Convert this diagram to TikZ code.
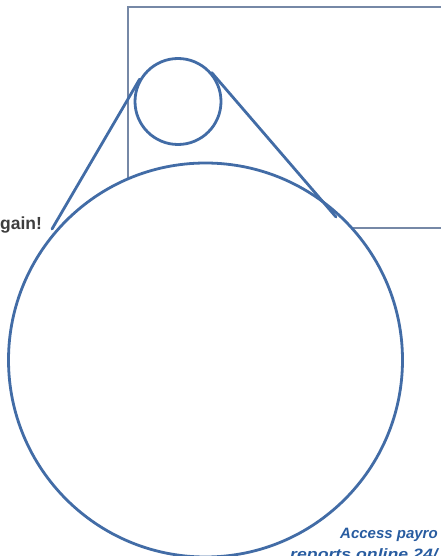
\documentclass[tikz,border=0pt]{standalone}
\usepackage{fontspec}
\setmainfont{Liberation Sans}
\usetikzlibrary{calc}
\definecolor{lensblue}{RGB}{66,108,166}
\definecolor{framegray}{RGB}{118,136,166}
\definecolor{adblue}{RGB}{40,92,160}
\definecolor{textgray}{RGB}{62,62,62}
\begin{document}
\begin{tikzpicture}[x=1pt, y=-1pt,
    frame/.style={framegray, line width=1.4pt},
    lens/.style={draw=lensblue, line width=2.8pt, fill=white, circle, inner sep=0pt},
    beam/.style={lensblue, line width=2.8pt, line cap=round}]
        \useasboundingbox (0,0) rectangle (440,556);

        % Frame behind the circles
        \draw[frame] (460,228) -- (128,228) -- (128,7) -- (460,7);

        % Big circle and small lens
        \node[lens, minimum size=394pt] (view) at (205.5,360) {};
        \node[lens, minimum size=86pt] (eye) at (178,101.5) {};

        % Tangent lines
        \coordinate (tipL) at (52,229);
        \coordinate (tipR) at (336,217);
        \draw[beam] (tangent cs:node=eye, point={(tipL)}, solution=2) -- (tipL);
        \draw[beam] (tangent cs:node=eye, point={(tipR)}, solution=1) -- (tipR);

        % Texts cut by the edges
        \node[textgray, font=\fontsize{17.5}{19}\selectfont\bfseries, anchor=base west, inner sep=0pt] (gain) at (0,229) {gain!};
        \node[adblue, font=\fontsize{15}{17}\selectfont\bfseries\itshape, anchor=base west, inner sep=0pt] (ad1) at (340,538) {Access payro};
        \node[adblue, font=\fontsize{15}{17}\selectfont\bfseries\itshape, anchor=base west, inner sep=0pt, xscale=1.18, transform shape] (ad2) at (290,559) {reports online 24/};
\end{tikzpicture}
\end{document}
